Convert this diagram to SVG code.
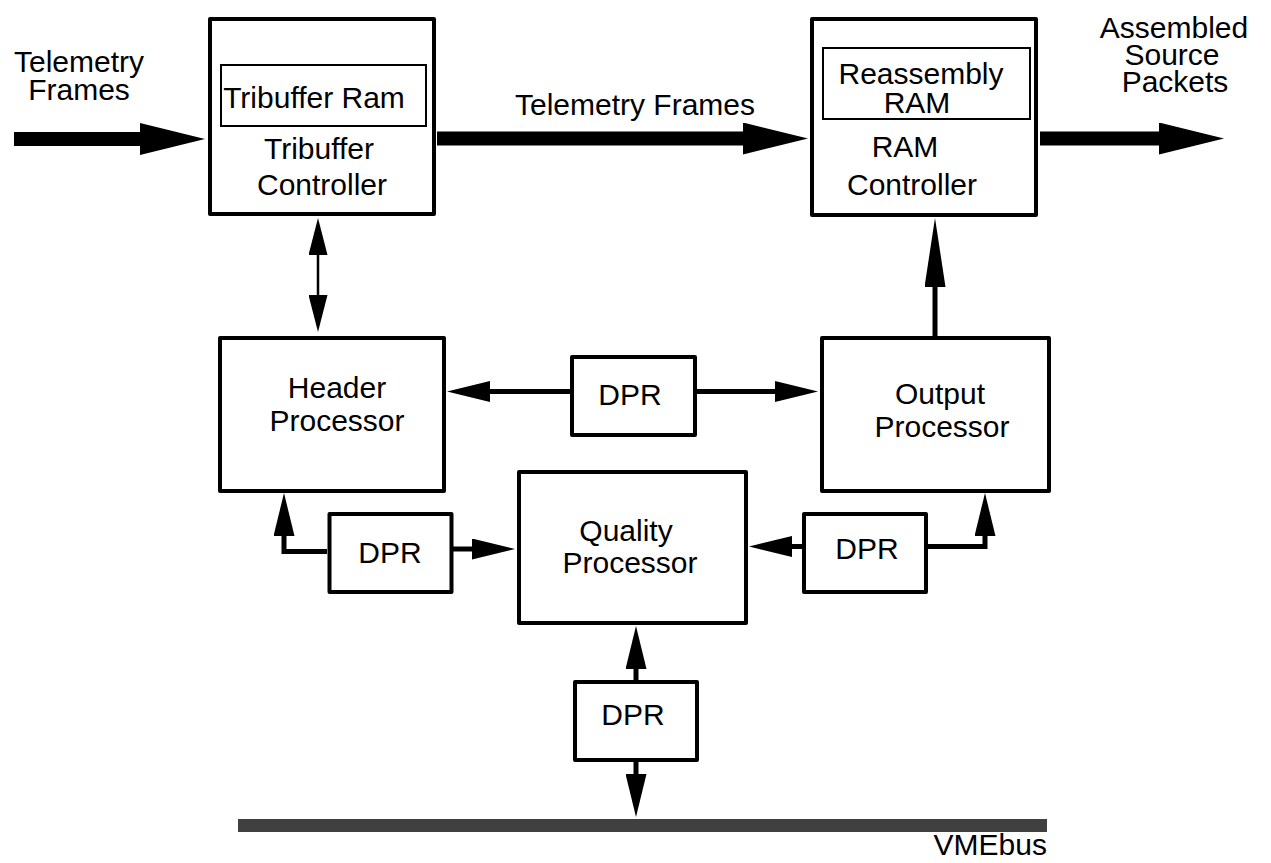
<svg xmlns="http://www.w3.org/2000/svg" width="1271" height="863" viewBox="0 0 1271 863">
  <style>
    text { font-family: "Liberation Sans", Arial, sans-serif; font-size: 30px; fill: #000; text-anchor: middle; }
    .box { fill: #fff; stroke: #000; stroke-width: 4; stroke-linejoin: round; }
    .inner { fill: #fff; stroke: #000; stroke-width: 2; }
    .wide { fill: none; stroke: #000; stroke-width: 14; }
    .mid { fill: none; stroke: #000; stroke-width: 5; stroke-linejoin: miter; }
    .thin { fill: none; stroke: #000; stroke-width: 2.5; }
    .bus { fill: #404040; }
  </style>
  <defs>
    <!-- arrowheads start at the line end and extend forward -->
    <marker id="ahB" markerUnits="userSpaceOnUse" markerWidth="65" markerHeight="32" viewBox="0 0 65 32" refX="0" refY="16" orient="auto">
      <path d="M0,0 L65,16 L0,32 z" fill="#000"/>
    </marker>
    <marker id="ahM" markerUnits="userSpaceOnUse" markerWidth="43" markerHeight="21" viewBox="0 0 43 21" refX="0" refY="10.5" orient="auto-start-reverse">
      <path d="M0,0 L43,10.5 L0,21 z" fill="#000"/>
    </marker>
    <marker id="ahL" markerUnits="userSpaceOnUse" markerWidth="69" markerHeight="21" viewBox="0 0 69 21" refX="0" refY="10.5" orient="auto">
      <path d="M0,0 L69,10.5 L0,21 z" fill="#000"/>
    </marker>
    <marker id="ahS" markerUnits="userSpaceOnUse" markerWidth="37" markerHeight="19" viewBox="0 0 37 19" refX="0" refY="9.5" orient="auto-start-reverse">
      <path d="M0,0 L37,9.5 L0,19 z" fill="#000"/>
    </marker>
  </defs>

  <g id="connectors">
    <path class="wide" d="M14,139 H140" marker-end="url(#ahB)"/>
    <path class="wide" d="M437,138.5 H743" marker-end="url(#ahB)"/>
    <path class="wide" d="M1040,138.5 H1159" marker-end="url(#ahB)"/>
    <path class="thin" d="M318,255 V295" marker-start="url(#ahS)" marker-end="url(#ahS)"/>
    <path class="mid" d="M570,391.5 H490" marker-end="url(#ahM)"/>
    <path class="mid" d="M697,391.5 H775" marker-end="url(#ahM)"/>
    <path class="mid" d="M935,336 V287" marker-end="url(#ahL)"/>
    <path class="mid" d="M327,551.5 H284 V536" marker-end="url(#ahM)"/>
    <path class="mid" d="M453,549 H472" marker-end="url(#ahM)"/>
    <path class="mid" d="M802,546.5 H792" marker-end="url(#ahM)"/>
    <path class="mid" d="M928,546.5 H985 V536" marker-end="url(#ahM)"/>
    <path class="mid" d="M636,680 V669" marker-end="url(#ahM)"/>
    <path class="mid" d="M636,762 V774" marker-end="url(#ahM)"/>
  </g>

  <g id="label-input">
    <text x="79" y="72">Telemetry</text>
    <text x="79" y="100">Frames</text>
  </g>
  <g id="label-frames">
    <text x="635" y="115">Telemetry Frames</text>
  </g>
  <g id="label-output">
    <text x="1174" y="38">Assembled</text>
    <text x="1172" y="65">Source</text>
    <text x="1175" y="92">Packets</text>
  </g>

  <g id="tribuffer-controller">
    <rect class="box" x="210" y="19" width="224" height="195"/>
    <rect class="inner" x="221" y="65" width="205" height="61"/>
    <text x="314" y="108">Tribuffer Ram</text>
    <text x="319" y="159">Tribuffer</text>
    <text x="322" y="195">Controller</text>
  </g>

  <g id="ram-controller">
    <rect class="box" x="812" y="19" width="224" height="196"/>
    <rect class="inner" x="823" y="48" width="207" height="71"/>
    <text x="921" y="84">Reassembly</text>
    <text x="917" y="113">RAM</text>
    <text x="905" y="157">RAM</text>
    <text x="912" y="195">Controller</text>
  </g>

  <g id="header-processor">
    <rect class="box" x="220" y="338" width="224" height="153"/>
    <text x="337" y="398">Header</text>
    <text x="337" y="431">Processor</text>
  </g>

  <g id="output-processor">
    <rect class="box" x="822" y="338" width="227" height="153"/>
    <text x="940" y="404">Output</text>
    <text x="942" y="437">Processor</text>
  </g>

  <g id="quality-processor">
    <rect class="box" x="519" y="472" width="227" height="151"/>
    <text x="626" y="541">Quality</text>
    <text x="630" y="573">Processor</text>
  </g>

  <g id="dpr-top">
    <rect class="box" x="572" y="357" width="123" height="78"/>
    <text x="630" y="405">DPR</text>
  </g>

  <g id="dpr-left">
    <rect class="box" x="329.5" y="514" width="122" height="78"/>
    <text x="390" y="563">DPR</text>
  </g>

  <g id="dpr-right">
    <rect class="box" x="804" y="514" width="122" height="78"/>
    <text x="867" y="559">DPR</text>
  </g>

  <g id="dpr-bottom">
    <rect class="box" x="575" y="682" width="122" height="78"/>
    <text x="633" y="725">DPR</text>
  </g>

  <g id="vmebus">
    <rect class="bus" x="238" y="819" width="809" height="13"/>
    <text x="1047" y="855" style="text-anchor:end">VMEbus</text>
  </g>
</svg>
